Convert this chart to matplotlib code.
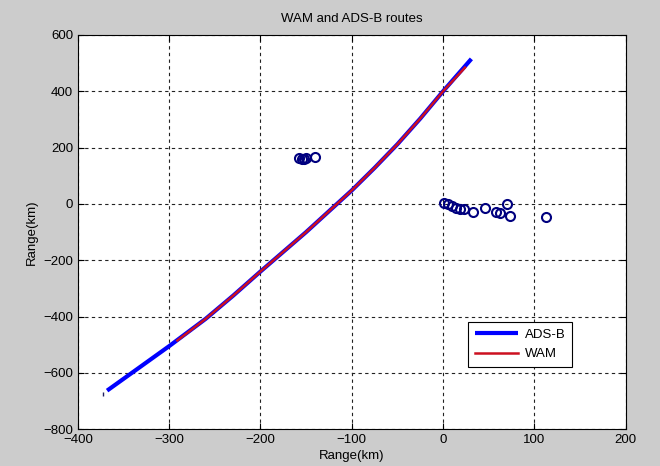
import matplotlib
matplotlib.use('Agg')
from matplotlib import pyplot as plt

plt.rcParams['font.family'] = ['Liberation Sans', 'DejaVu Sans']

# ADS-B track (km)
ads_x = [-368, -340, -300, -260, -230, -200, -150, -100, -75, -50, -25, 0, 31]
ads_y = [-663, -598, -505, -408, -326, -240, -100, 48, 128, 212, 303, 400, 515]

# WAM track (km)
wam_x = [-291, -260, -230, -200, -150, -100, -75, -50, -25, 0, 24]
wam_y = [-485, -408, -326, -240, -100, 48, 128, 212, 303, 400, 484]

# stray plots away from the route
stray_x = [-158, -155, -152, -150, -140,
           1, 5.6, 9.3, 13.7, 18.4, 22.8, 33, 45.8, 58.5, 62.2, 70.2, 73.2, 113]
stray_y = [162, 160, 158, 162, 168,
           2, -1.4, -7.5, -15.6, -18, -18, -27.7, -15.6, -29.8, -33.4, -0.4, -42, -47]

fig = plt.figure(figsize=(6.6, 4.66), dpi=100)
fig.patch.set_facecolor('#cccccc')
ax = fig.add_axes([0.118, 0.079, 0.830, 0.846])

ax.plot(ads_x, ads_y, color='#0000ff', lw=3.0, label='ADS-B', solid_capstyle='butt')
ax.plot(wam_x, wam_y, color='#cc1020', lw=1.8, label='WAM')
ax.plot([-373], [-676], ls='none', marker='|', ms=3, color='#202060')
ax.plot(stray_x, stray_y, ls='none', marker='o', ms=6.5, mfc='none',
        mec='#00007f', mew=1.5)

ax.set_xlim(-400, 200)
ax.set_ylim(-800, 600)
ax.set_xticks(range(-400, 201, 100))
ax.set_yticks(range(-800, 601, 200))
ax.grid(True, color='#222222', linestyle=(0, (3, 3)), lw=0.8)
ax.tick_params(direction='in', top=True, right=True, length=4, labelsize=9.5)
for s in ax.spines.values():
    s.set_linewidth(0.8)

ax.set_title('WAM and ADS-B routes', fontsize=9.5, pad=9)
ax.set_xlabel('Range(km)', fontsize=9.5, labelpad=3)
ax.set_ylabel('Range(km)', fontsize=9.5, labelpad=4)

leg = ax.legend(loc='lower left', bbox_to_anchor=(0.712, 0.158), fontsize=9.5,
                fancybox=False, framealpha=1, edgecolor='black',
                handlelength=3.3, labelspacing=0.55, borderpad=0.5,
                handletextpad=0.5, borderaxespad=0)
leg.get_frame().set_linewidth(0.8)

fig.savefig('out.png', facecolor=fig.get_facecolor())
